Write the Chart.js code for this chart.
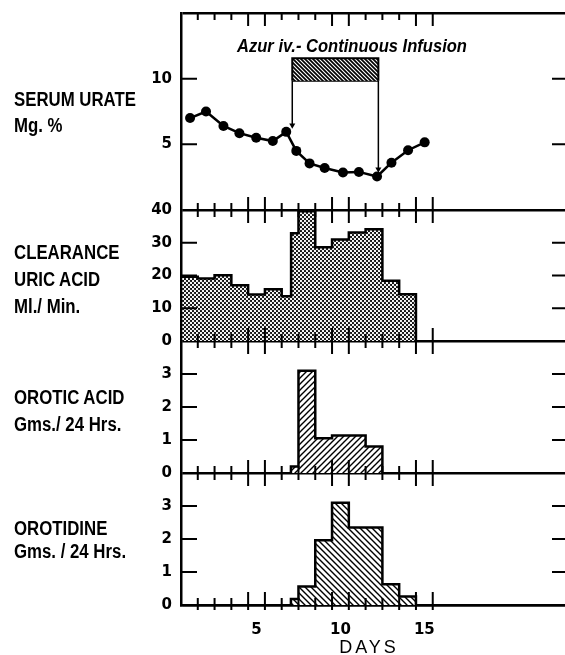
<!DOCTYPE html>
<html>
<head>
<meta charset="utf-8">
<script src="https://cdn.jsdelivr.net/npm/chart.js@4.4.0/dist/chart.umd.min.js"></script>
<style>
  html, body { margin: 0; padding: 0; background: #fff; overflow: hidden; }
  #wrap { position: relative; width: 565px; height: 655px; overflow: hidden; }
  canvas { position: absolute; left: 0; top: 0; }
  .lbl { position: absolute; left: 14px; font: bold 20px "Liberation Sans", Arial, sans-serif; line-height: 20px; white-space: pre; color: #000; transform: scaleX(0.84); transform-origin: 0 0; }
  #title { position: absolute; left: 352px; top: 36px; transform: translateX(-50%) scaleX(0.92); font: italic bold 18px "Liberation Sans", Arial, sans-serif; line-height: 20px; white-space: nowrap; }
  #days { position: absolute; left: 369px; top: 637px; transform: translateX(-50%); font: 18px "Liberation Sans", Arial, sans-serif; letter-spacing: 3px; line-height: 20px; }
</style>
</head>
<body>
<div id="wrap">
  <canvas id="chart" width="575" height="655"></canvas>
  <div id="title"></div>
  <div id="days"></div>
</div>
<script>
// x values are days (day n is the bin centred on n)
const titleText = "Azur iv.- Continuous Infusion";
const axisTitle = "DAYS";
const dayLabels = [5, 10, 15];
const panelLabels = [
  ["SERUM URATE", "Mg. %"],
  ["CLEARANCE", "URIC ACID", "Ml./ Min."],
  ["OROTIC ACID", "Gms./ 24 Hrs."],
  ["OROTIDINE", "Gms. / 24 Hrs."]
];

// serum urate, mg %
const urateDay = [1.04, 1.99, 3.03, 3.98, 4.98, 5.97, 6.77, 7.37, 8.16, 9.06, 10.15, 11.1, 12.18, 13.04, 14.03, 15.02];
const urateMg = [7.0, 7.5, 6.4, 5.85, 5.5, 5.25, 5.95, 4.5, 3.55, 3.2, 2.85, 2.9, 2.55, 3.6, 4.55, 5.15];

// infusion period and its marker bar
const infusion = [7.13, 12.26];
const infusionBar = [9.85, 11.55];
const arrowTips = [6.45, 3.1];

// clearance uric acid, ml/min (step edges + values)
const clearEdges = [0.5, 1.5, 2.5, 3.5, 4.5, 5.5, 6.5, 7.06, 7.5, 8.5, 9.5, 10.5, 11.5, 12.5, 13.5, 14.5];
const clearVals = [19.6, 19.1, 20.1, 17.0, 14.2, 15.8, 13.7, 32.9, 39.6, 28.6, 31.0, 33.1, 34.1, 18.4, 14.3];

// orotic acid, g / 24 h
const oroticEdges = [7.05, 7.5, 8.5, 9.5, 11.5, 12.5];
const oroticVals = [0.2, 3.1, 1.05, 1.14, 0.8];

// orotidine, g / 24 h
const orotidineEdges = [7.05, 7.5, 8.5, 9.5, 10.5, 12.5, 13.5, 14.5];
const orotidineVals = [0.18, 0.56, 1.96, 3.1, 2.35, 0.63, 0.26];

// day boundaries that get tick marks, and the longer ones
const dayEdges = [1.5, 2.5, 3.5, 4.5, 5.5, 6.5, 7.5, 8.5, 9.5, 10.5, 11.5, 12.5, 13.5, 14.5, 15.5];
const longEdges = [4.5, 5.5, 9.5, 10.5, 14.5, 15.5];

// text placement (baselines)
const labelBase = [[106, 132], [259, 286, 313], [404, 431], [535, 558]];

document.getElementById('title').textContent = titleText;
document.getElementById('days').textContent = axisTitle;
panelLabels.forEach((lines, i) => {
  lines.forEach((t, j) => {
    const d = document.createElement('div');
    d.className = 'lbl';
    d.style.top = (labelBase[i][j] - 17) + 'px';
    d.textContent = t;
    document.getElementById('wrap').appendChild(d);
  });
});

function makePattern(size, draw) {
  const c = document.createElement('canvas');
  c.width = c.height = size;
  const g = c.getContext('2d');
  draw(g, size);
  return g.createPattern(c, 'repeat');
}

function hatch(s, lw, dir, bg, fg) {
  return makePattern(s, g => {
    g.fillStyle = bg;
    g.fillRect(0, 0, s, s);
    g.strokeStyle = fg;
    g.lineWidth = lw;
    g.beginPath();
    if (dir > 0) {
      g.moveTo(0, s); g.lineTo(s, 0);
      g.moveTo(-s / 2, s / 2); g.lineTo(s / 2, -s / 2);
      g.moveTo(s / 2, s * 1.5); g.lineTo(s * 1.5, s / 2);
    } else {
      g.moveTo(0, 0); g.lineTo(s, s);
      g.moveTo(-s / 2, s / 2); g.lineTo(s / 2, s * 1.5);
      g.moveTo(s / 2, -s / 2); g.lineTo(s * 1.5, s / 2);
    }
    g.stroke();
  });
}

const crossFill = makePattern(4, g => {
  g.fillStyle = '#111';
  g.fillRect(0, 0, 4, 4);
  g.fillStyle = '#fff';
  [[1, 1], [3, 3]].forEach(([x, y]) => {
    g.beginPath();
    g.arc(x, y, 1.15, 0, Math.PI * 2);
    g.fill();
  });
});
const riseFill = hatch(6, 1.4, 1, '#fff', '#000');
const fallFill = hatch(6, 1.4, -1, '#fff', '#000');
const barFill = hatch(4, 1.1, -1, '#000', '#fff');

// corners of a step histogram
function steps(edges, vals) {
  const pts = [{x: edges[0], y: 0}];
  vals.forEach((v, i) => {
    pts.push({x: edges[i], y: v});
    pts.push({x: edges[i + 1], y: v});
  });
  pts.push({x: edges[edges.length - 1], y: 0});
  return pts;
}

function histo(axis, edges, vals, fill) {
  return {
    yAxisID: axis, data: steps(edges, vals), fill: 'origin',
    backgroundColor: fill, borderColor: '#000', borderWidth: 2.5,
    pointRadius: 0, borderJoinStyle: 'miter'
  };
}

function arrow(x, tip) {
  return {
    yAxisID: 'y1', data: [{x: x, y: infusionBar[0]}, {x: x, y: tip}],
    borderColor: '#000', borderWidth: 1.5, fill: false,
    pointRadius: [0, 3.5], pointStyle: 'triangle', pointRotation: 180,
    pointBackgroundColor: '#000', pointBorderWidth: 0
  };
}

const tickFont = {family: 'DejaVu Sans', weight: 'bold', size: 15};

function noPad(s) {
  s.paddingTop = 0; s.paddingBottom = 0; s.paddingLeft = 0; s.paddingRight = 0;
}

function yAxis(max, step, weight, share, shown, topLine) {
  return {
    type: 'linear', position: 'left', stack: 'panels', stackWeight: share, weight: weight,
    min: 0, max: max,
    border: {display: true, color: '#000', width: 2.5},
    grid: {
      drawTicks: false, lineWidth: 2.5,
      color: c => (c.tick.value === 0 || (topLine && c.tick.value === max)) ? '#000' : 'rgba(0,0,0,0)'
    },
    ticks: {
      stepSize: step, padding: 9, color: '#000', font: tickFont, autoSkip: false,
      callback: v => shown.includes(v) ? String(v) : ''
    },
    afterFit: s => { s.width = 181; noPad(s); }
  };
}

const frameTicks = {
  id: 'frameTicks',
  afterDatasetsDraw(chart) {
    const {ctx, chartArea: a, scales} = chart;
    const x = scales.x;
    const seg = (x1, y1, x2, y2) => { ctx.moveTo(x1, y1); ctx.lineTo(x2, y2); };
    ctx.save();
    ctx.strokeStyle = '#000';
    ctx.lineWidth = 2;
    ctx.beginPath();
    ['y1', 'y2', 'y3', 'y4'].forEach(id => {
      const s = scales[id];
      s.ticks.forEach(t => {
        if (t.value <= s.min || t.value >= s.max) return;
        const py = s.getPixelForValue(t.value);
        seg(a.left, py, a.left + 16, py);
        seg(a.right - 15, py, a.right, py);
      });
      dayEdges.forEach(d => {
        const px = x.getPixelForValue(d);
        const len = longEdges.includes(d) ? 13 : 7;
        seg(px, s.top, px, s.top + len);
        seg(px, s.bottom, px, s.bottom - len);
      });
    });
    dayEdges.forEach(d => {
      const px = x.getPixelForValue(d);
      seg(px, a.bottom, px, a.bottom + 5);
    });
    ctx.stroke();
    ctx.restore();
  }
};

new Chart(document.getElementById('chart'), {
  type: 'line',
  data: {
    datasets: [
      {
        yAxisID: 'y1', data: urateDay.map((d, i) => ({x: d, y: urateMg[i]})),
        borderColor: '#000', borderWidth: 2.5, fill: false,
        pointRadius: 5, pointBackgroundColor: '#000', pointBorderWidth: 0
      },
      {
        yAxisID: 'y1',
        data: [
          {x: infusion[0], y: infusionBar[0]}, {x: infusion[0], y: infusionBar[1]},
          {x: infusion[1], y: infusionBar[1]}, {x: infusion[1], y: infusionBar[0]}
        ],
        fill: {value: infusionBar[0]}, backgroundColor: barFill,
        borderColor: '#000', borderWidth: 2, pointRadius: 0
      },
      {
        yAxisID: 'y1',
        data: [{x: infusion[0], y: infusionBar[0]}, {x: infusion[1], y: infusionBar[0]}],
        borderColor: '#000', borderWidth: 2, pointRadius: 0, fill: false
      },
      arrow(infusion[0], arrowTips[0]),
      arrow(infusion[1], arrowTips[1]),
      histo('y2', clearEdges, clearVals, crossFill),
      histo('y3', oroticEdges, oroticVals, riseFill),
      histo('y4', orotidineEdges, orotidineVals, fallFill)
    ]
  },
  options: {
    responsive: false,
    animation: false,
    events: [],
    layout: {padding: {left: 0, top: 13, right: 8, bottom: 0}},
    plugins: {legend: {display: false}, tooltip: {enabled: false}},
    elements: {line: {tension: 0}},
    scales: {
      x: {
        type: 'linear', position: 'bottom', min: 0.5, max: 23.5,
        grid: {display: false},
        border: {display: true, color: '#000', width: 2.5},
        afterBuildTicks: s => { s.ticks = dayLabels.map(v => ({value: v})); },
        ticks: {padding: 8, color: '#000', font: tickFont, autoSkip: false, maxRotation: 0},
        afterFit: s => { s.height = 50; noPad(s); }
      },
      y1: yAxis(15, 5, 4, 197, [5, 10], true),
      y2: yAxis(40, 10, 3, 131, [0, 10, 20, 30, 40], false),
      y3: yAxis(4, 1, 2, 132, [0, 1, 2, 3], false),
      y4: yAxis(4, 1, 1, 132, [0, 1, 2, 3], false)
    }
  },
  plugins: [frameTicks]
});
</script>
</body>
</html>
